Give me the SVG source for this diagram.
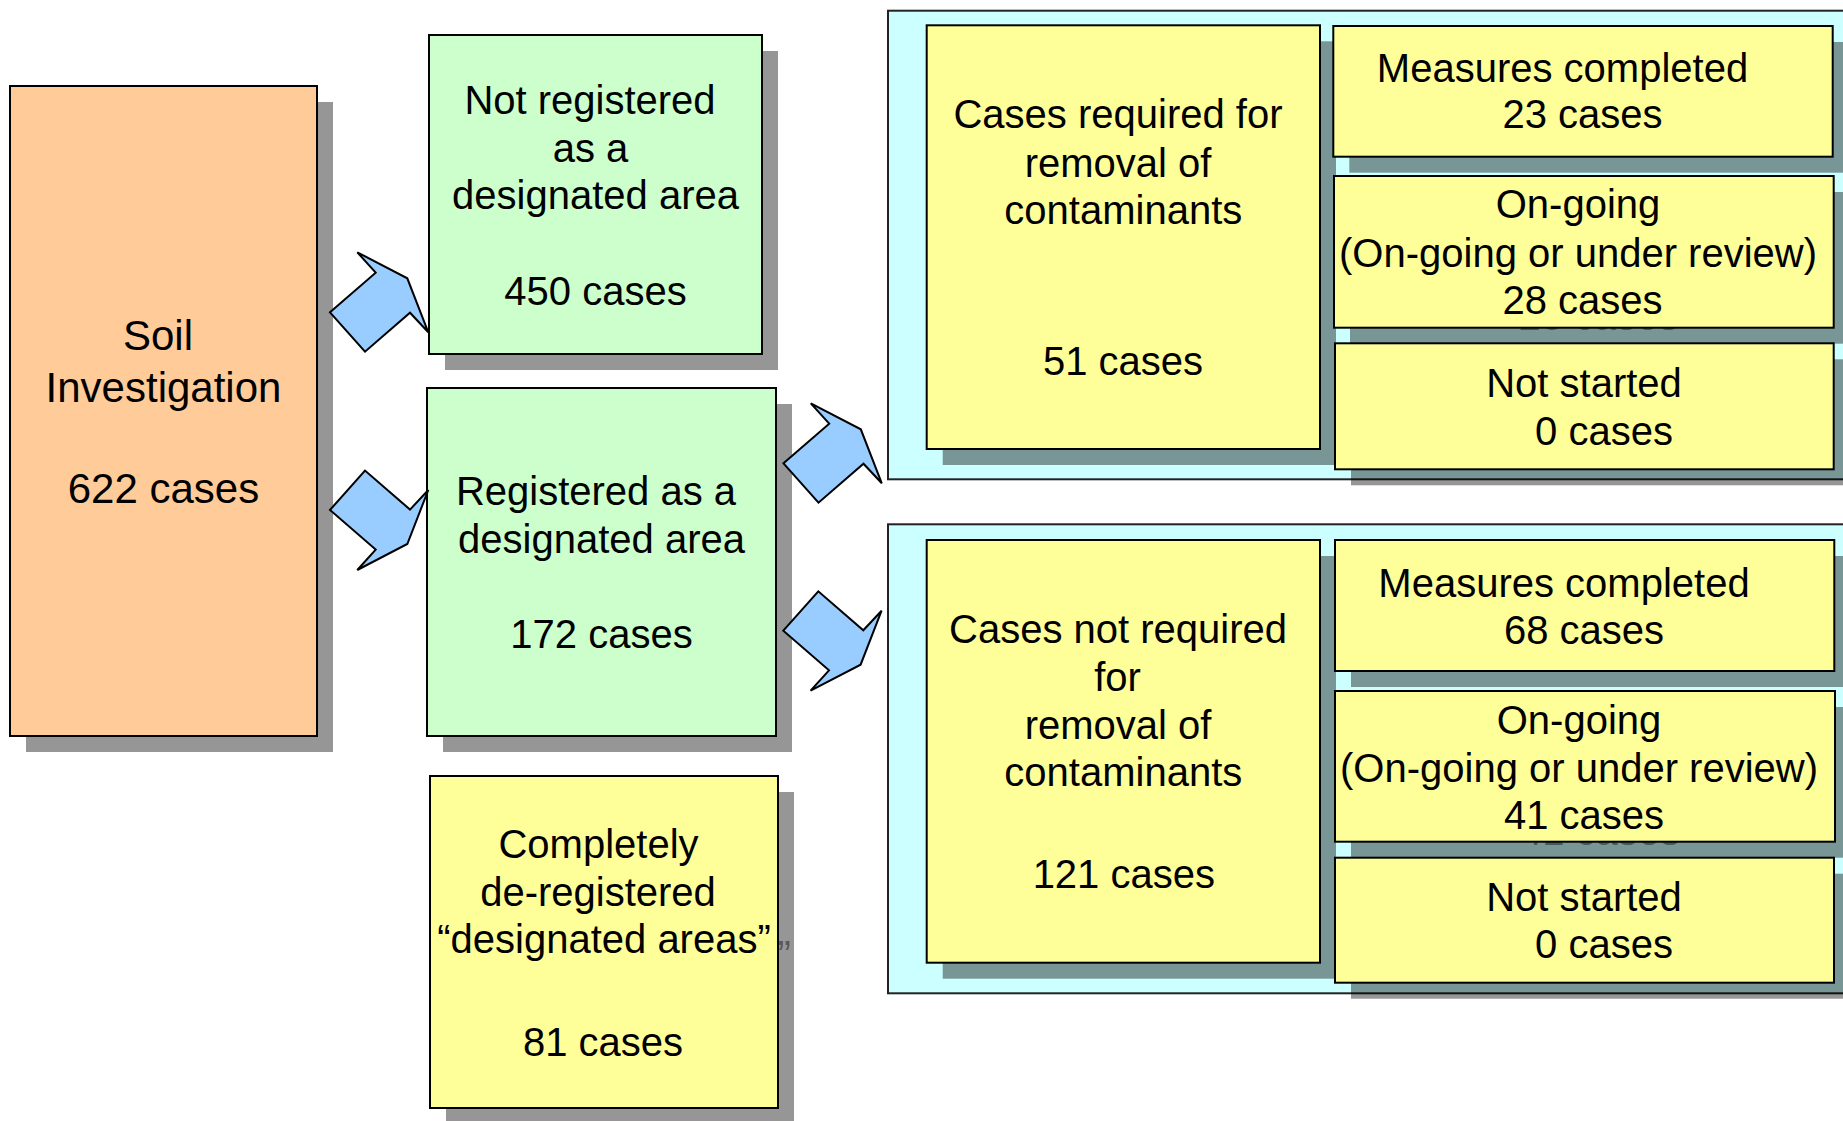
<svg xmlns="http://www.w3.org/2000/svg" xmlns:xlink="http://www.w3.org/1999/xlink" width="1843" height="1121" viewBox="0 0 1843 1121">
<style>
.sh{fill:#000;fill-opacity:0.41}
.box{stroke:#000;stroke-width:2}
.cont{fill:#CCFFFF;stroke:#222;stroke-width:2}
.or{fill:#FFCC99}
.gr{fill:#CCFFCC}
.ye{fill:#FFFF99}
text{font-family:"Liberation Sans",Arial,sans-serif;font-size:40px;fill:#000;text-anchor:middle}
text.big{font-size:42px}
text.tsh{fill:#000;fill-opacity:0.41}
.arr{fill:#99CCFF;stroke:#000;stroke-width:2;stroke-linejoin:miter}
</style>
<defs>
<polygon id="arrUp" points="0,0 45.7,-39.6 27.3,-60 77.3,-34 98.3,20 80,0.4 35,39.4"/>
<polygon id="arrDown" points="0,0 35,-39.4 80,-0.4 98.3,-20 77.3,34 27.3,60 45.7,39.6"/>
</defs>
<rect width="1843" height="1121" fill="#fff"/>

<g id="soil">
<rect class="sh" x="26" y="102" width="307" height="650"/>
<rect class="box or" x="10" y="86" width="307" height="650"/>
<text class="big" x="158" y="350">Soil</text>
<text class="big" x="163.5" y="402">Investigation</text>
<text class="big" x="163.5" y="503">622 cases</text>
</g>

<g id="not-registered">
<rect class="sh" x="445" y="51" width="333" height="319"/>
<rect class="box gr" x="429" y="35" width="333" height="319"/>
<text x="590" y="114">Not registered</text>
<text x="590.5" y="162">as a</text>
<text x="595.5" y="209">designated area</text>
<text x="595.5" y="305">450 cases</text>
</g>

<g id="registered">
<rect class="sh" x="443" y="404" width="349" height="348"/>
<rect class="box gr" x="427" y="388" width="349" height="348"/>
<text x="596" y="505">Registered as a</text>
<text x="601.5" y="553">designated area</text>
<text x="601.5" y="648">172 cases</text>
</g>

<g id="deregistered">
<rect class="sh" x="446" y="792" width="348" height="332"/>
<text class="tsh" x="624" y="969">“designated areas”</text>
<rect class="box ye" x="430" y="776" width="348" height="332"/>
<text x="598.5" y="858">Completely</text>
<text x="598" y="906">de-registered</text>
<text x="604" y="953">“designated areas”</text>
<text x="603" y="1056">81 cases</text>
</g>

<g id="container-required">
<rect class="cont" x="888" y="10.7" width="980" height="468.6"/>
</g>
<g id="container-not-required">
<rect class="cont" x="888" y="524.3" width="980" height="469"/>
</g>

<g id="required">
<rect class="sh" x="942.7" y="41.3" width="393.3" height="423.7"/>
<rect class="box ye" x="926.7" y="25.3" width="393.3" height="423.7"/>
<text x="1118" y="128.3">Cases required for</text>
<text x="1118" y="176.7">removal of</text>
<text x="1123.3" y="224.3">contaminants</text>
<text x="1123" y="375">51 cases</text>
</g>

<g id="req-completed">
<rect class="sh" x="1349.3" y="42" width="499.4" height="130.7"/>
<rect class="box ye" x="1333.3" y="26" width="499.4" height="130.7"/>
<text x="1562.5" y="81.7">Measures completed</text>
<text x="1582.5" y="128.3">23 cases</text>
</g>

<g id="req-ongoing">
<rect class="sh" x="1350" y="192" width="499.7" height="151.7"/>
<text class="tsh" x="1598.5" y="330">28 cases</text>
<rect class="box ye" x="1334" y="176" width="499.7" height="151.7"/>
<text x="1578" y="218.3">On-going</text>
<text x="1578" y="266.7">(On-going or under review)</text>
<text x="1582.5" y="314">28 cases</text>
</g>

<g id="req-notstarted">
<rect class="sh" x="1351" y="359.3" width="498.7" height="126"/>
<rect class="box ye" x="1335" y="343.3" width="498.7" height="126"/>
<text x="1584" y="396.7">Not started</text>
<text x="1604" y="445">0 cases</text>
</g>

<g id="not-required">
<rect class="sh" x="942.7" y="556" width="393.3" height="422.7"/>
<rect class="box ye" x="926.7" y="540" width="393.3" height="422.7"/>
<text x="1118" y="642.7">Cases not required</text>
<text x="1117.5" y="690.7">for</text>
<text x="1118" y="738.7">removal of</text>
<text x="1123.3" y="785.7">contaminants</text>
<text x="1123.8" y="888.3">121 cases</text>
</g>

<g id="notreq-completed">
<rect class="sh" x="1351" y="556" width="499.3" height="131"/>
<rect class="box ye" x="1335" y="540" width="499.3" height="131"/>
<text x="1564" y="596.7">Measures completed</text>
<text x="1584" y="644">68 cases</text>
</g>

<g id="notreq-ongoing">
<rect class="sh" x="1351" y="707" width="500" height="150.7"/>
<text class="tsh" x="1600" y="845">41 cases</text>
<rect class="box ye" x="1335" y="691" width="500" height="150.7"/>
<text x="1579" y="734">On-going</text>
<text x="1579" y="781.7">(On-going or under review)</text>
<text x="1584" y="829">41 cases</text>
</g>

<g id="notreq-notstarted">
<rect class="sh" x="1351" y="873.7" width="499" height="125"/>
<rect class="box ye" x="1335" y="857.7" width="499" height="125"/>
<text x="1584" y="910.7">Not started</text>
<text x="1604" y="958.3">0 cases</text>
</g>

<g id="connectors">
<use xlink:href="#arrUp" class="arr" transform="translate(330,312.3)"/>
<use xlink:href="#arrDown" class="arr" transform="translate(330,510)"/>
<use xlink:href="#arrUp" class="arr" transform="translate(783.5,463.3)"/>
<use xlink:href="#arrDown" class="arr" transform="translate(783.3,630.7)"/>
</g>
</svg>
